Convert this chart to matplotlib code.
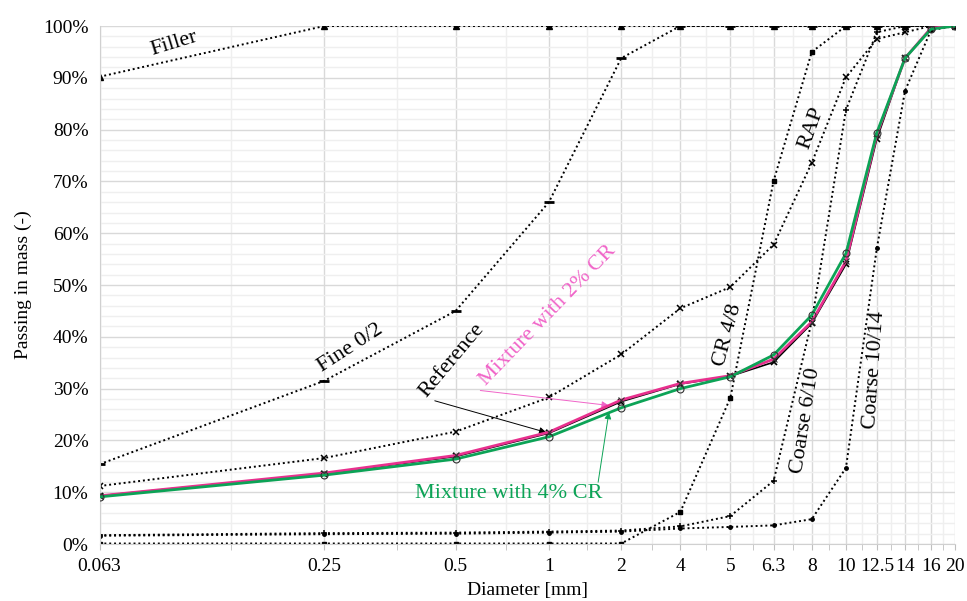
import numpy as np
import matplotlib
matplotlib.use('Agg')
import matplotlib.pyplot as plt
from matplotlib.ticker import FixedLocator, FuncFormatter, NullFormatter

plt.rcParams['font.family'] = ['Liberation Serif', 'DejaVu Serif']

# sieve sizes (mm), plotted at evenly indexed positions on a log axis
sieves = ['0.063', '0.25', '0.5', '1', '2', '4', '5', '6.3', '8', '10', '12.5', '14', '16', '20']

# passing (%) per sieve
filler = [90.2, 100, 100, 100, 100, 100, 100, 100, 100, 100, 100, 100, 100, 100]
fine_02 = [15.4, 31.5, 45.0, 66.0, 93.8, 100, 100, 100, 100, 100, 100, 100, 100, 100]
cr_48 = [0.1, 0.1, 0.1, 0.1, 0.1, 6.2, 28.2, 70.1, 95.0, 100, 100, 100, 100, 100]
coarse_610 = [1.7, 2.1, 2.2, 2.4, 2.6, 3.4, 5.4, 12.2, 43.0, 83.8, 98.8, 100, 100, 100]
coarse_1014 = [1.6, 1.9, 2.0, 2.2, 2.4, 3.0, 3.3, 3.6, 4.8, 14.7, 57.1, 87.5, 99.2, 100]
rap = [11.2, 16.6, 21.7, 28.3, 36.6, 45.5, 49.6, 57.8, 73.6, 90.1, 97.5, 98.8, 100, 100]
reference = [9.3, 13.6, 16.9, 21.4, 27.5, 30.9, 32.4, 35.1, 42.6, 54.0, 78.2, 93.8, 99.6, 100]
mix_2cr = [9.3, 13.7, 17.1, 21.6, 27.8, 31.0, 32.5, 35.7, 42.9, 54.6, 79.0, 93.8, 99.6, 100]
mix_4cr = [9.1, 13.3, 16.4, 20.7, 26.3, 30.0, 32.3, 36.5, 44.2, 56.1, 79.4, 93.8, 99.4, 100]

pos = np.arange(1, len(sieves) + 1)

fig = plt.figure(figsize=(9.67, 6.01), dpi=100)
ax = fig.add_axes([0.1029, 0.0948, 0.8847, 0.8619])

# dotted style shared by the component curves
dot = dict(color='black', linestyle=(0, (1, 1.5)), linewidth=1.4)
ax.plot(pos, filler, marker='^', markersize=4, **dot)
ax.plot(pos, fine_02, marker='_', markeredgewidth=2, markersize=7, **dot)
ax.plot(pos, cr_48, marker='s', markersize=3.5, **dot)
ax.plot(pos, coarse_610, marker='+', markeredgewidth=1.1, markersize=4.5, **dot)
ax.plot(pos, coarse_1014, marker='o', markersize=2.5, **dot)
ax.plot(pos, rap, marker='x', markeredgewidth=1.1, markersize=4.5, **dot)

ax.plot(pos, reference, color='black', linewidth=1.2, marker='x', markersize=5,
        markeredgewidth=1.2, zorder=3)
ax.plot(pos, mix_2cr, color='#e8308e', linewidth=2.0, marker='x', markersize=4,
        markeredgecolor='#333333', markeredgewidth=0.8, zorder=4)
ax.plot(pos, mix_4cr, color='#0ca356', linewidth=2.0, marker='o', markersize=5,
        markerfacecolor='none', markeredgecolor='#333333', markeredgewidth=0.8, zorder=5)

ax.set_xscale('log')
ax.set_xlim(1, len(sieves))
ax.set_ylim(0, 100)
ax.xaxis.set_major_locator(FixedLocator(pos))
ax.xaxis.set_minor_locator(FixedLocator(pos[:-1] + 0.5))
ax.xaxis.set_major_formatter(FuncFormatter(lambda v, i: sieves[int(round(v)) - 1]))
ax.xaxis.set_minor_formatter(NullFormatter())
ax.yaxis.set_major_locator(FixedLocator(np.arange(0, 101, 10)))
ax.yaxis.set_minor_locator(FixedLocator(np.arange(0, 101, 2)))
ax.yaxis.set_major_formatter(FuncFormatter(lambda v, i: f'{v:.0f}%'))

ax.grid(which='major', color='#d9d9d9', linewidth=1.0)
ax.grid(which='minor', color='#efefef', linewidth=1.0)
ax.set_axisbelow(True)
for s in ['top', 'right']:
    ax.spines[s].set_visible(False)
for s in ['left', 'bottom']:
    ax.spines[s].set_color('#d0d0d0')
ax.tick_params(axis='x', which='both', colors='#bfbfbf', labelcolor='black', length=4,
               labelsize=14, pad=6)
ax.tick_params(axis='y', which='both', length=0, labelsize=14, pad=8)

ax.set_xlabel('Diameter [mm]', fontsize=14, labelpad=5)
ax.set_ylabel('Passing in mass (-)', fontsize=14, labelpad=8)

tk = dict(fontsize=16, ha='center', va='center', rotation_mode='anchor')
ax.text(1.26, 96.6, 'Filler', rotation=17, **tk)
ax.text(2.17, 37.8, 'Fine 0/2', rotation=33, **tk)
ax.text(2.97, 35.5, 'Reference', rotation=50, **tk)
ax.text(3.99, 44.2, 'Mixture with 2% CR', rotation=46, color='#f064c8', **tk)
ax.text(3.53, 9.8, 'Mixture with 4% CR', color='#0ca356', **tk)
ax.text(6.95, 40.3, 'CR 4/8', rotation=75, **tk)
ax.text(9.0, 80.3, 'RAP', rotation=70, **tk)
ax.text(8.84, 23.9, 'Coarse 6/10', rotation=81, **tk)
ax.text(10.94, 33.6, 'Coarse 10/14', rotation=86, **tk)

ax.annotate('', xy=(4.0, 21.4), xytext=(2.79, 27.8),
            arrowprops=dict(arrowstyle='-|>', color='black', lw=0.7, mutation_scale=10))
ax.annotate('', xy=(4.85, 26.7), xytext=(3.21, 29.7),
            arrowprops=dict(arrowstyle='-|>', color='#f064c8', lw=0.7, mutation_scale=10))
ax.annotate('', xy=(4.82, 26.0), xytext=(4.65, 11.4),
            arrowprops=dict(arrowstyle='-|>', color='#0ca356', lw=0.7, mutation_scale=10))

fig.savefig('out.png', dpi=100)
